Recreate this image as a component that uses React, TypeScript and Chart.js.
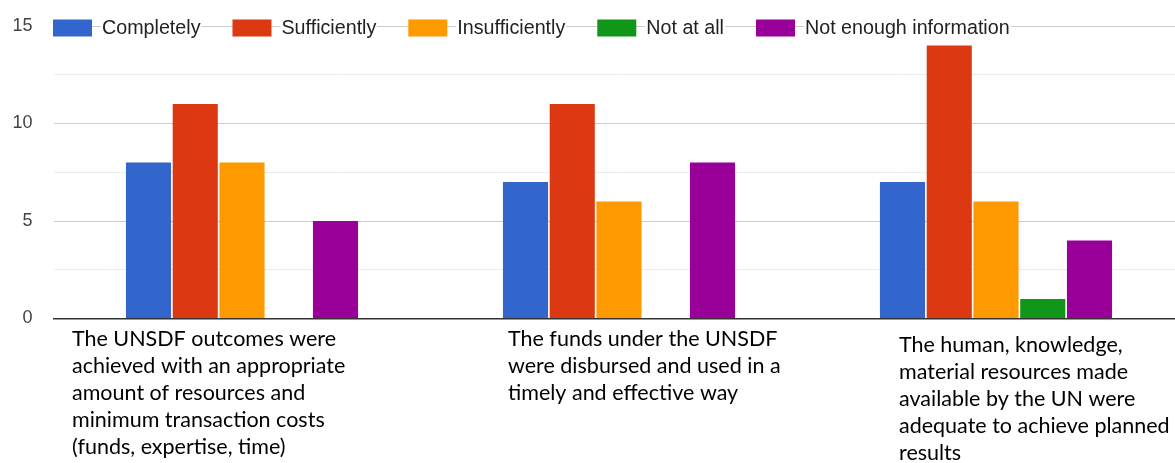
import React, { useEffect, useRef } from "react";
import { Chart, registerables } from "chart.js";

Chart.register(...registerables);

// ---- data ----
const categoryLines: string[][] = [
  ["The UNSDF outcomes were", "achieved with an appropriate", "amount of resources and", "minimum transaction costs", "(funds, expertise, time)"],
  ["The funds under the UNSDF", "were disbursed and used in a", "timely and effective way"],
  ["The human, knowledge,", "material resources made", "available by the UN were", "adequate to achieve planned", "results"],
];
const seriesNames = ["Completely", "Sufficiently", "Insufficiently", "Not at all", "Not enough information"];
const completely = [8, 7, 7];
const sufficiently = [11, 11, 14];
const insufficiently = [8, 6, 6];
const notAtAll = [0, 0, 1];
const notEnoughInfo = [5, 8, 4];
const yTickLabels = [0, 5, 10, 15];

const seriesValues = [completely, sufficiently, insufficiently, notAtAll, notEnoughInfo];
const seriesColors = ["#3366cc", "#dc3912", "#ff9900", "#109618", "#990099"];

// ---- layout / style (not data) ----
const CANVAS_W = 1200;
const CANVAS_H = 463;
const labelDx = [-170, -111, -97];
const labelDy = [27, 27, 33];
const labelLineH = 27;

const legendPlugin = {
  id: "customLegend",
  afterDraw(chart: any) {
    const ctx = chart.ctx as CanvasRenderingContext2D;
    const y = chart.scales.y.getPixelForValue(15) + 2;
    ctx.save();
    ctx.font = '19.7px "Liberation Sans", Arial, sans-serif';
    ctx.textBaseline = "middle";
    ctx.textAlign = "left";
    let x = 53;
    chart.data.datasets.forEach((ds: any) => {
      ctx.fillStyle = ds.backgroundColor;
      ctx.fillRect(x, y - 8.5, 39, 17);
      x += 39 + 10;
      const w = ctx.measureText(ds.label).width;
      ctx.fillStyle = "#ffffff";
      ctx.fillRect(x - 1, y - 11, w + 2, 22);
      ctx.fillStyle = "#222222";
      ctx.fillText(ds.label, x, y + 1);
      x += w + 32;
    });
    ctx.restore();
  },
};

const categoryLabelPlugin = {
  id: "categoryLabels",
  afterDraw(chart: any) {
    const ctx = chart.ctx as CanvasRenderingContext2D;
    const xs = chart.scales.x;
    const base = chart.chartArea.bottom;
    ctx.save();
    ctx.font = "21.5px Lato, sans-serif";
    ctx.fillStyle = "#000000";
    ctx.textAlign = "left";
    ctx.textBaseline = "alphabetic";
    categoryLines.forEach((lines, i) => {
      const x0 = xs.getPixelForValue(i) + labelDx[i];
      lines.forEach((t, j) => {
        ctx.fillText(t, x0, base + labelDy[i] + j * labelLineH);
      });
    });
    ctx.restore();
  },
};

export default function App() {
  const ref = useRef<HTMLCanvasElement>(null);

  useEffect(() => {
    if (!ref.current) return;
    const chart = new Chart(ref.current, {
      type: "bar",
      data: {
        labels: categoryLines.map((l) => l.join(" ")),
        datasets: seriesNames.map((name, i) => ({
          label: name,
          data: seriesValues[i],
          backgroundColor: seriesColors[i],
          borderWidth: 0,
          categoryPercentage: 0.62,
          barPercentage: 0.965,
        })),
      },
      options: {
        responsive: false,
        animation: false,
        devicePixelRatio: 1,
        layout: { padding: { top: 26, right: 15.5, left: 0, bottom: 0 } },
        plugins: {
          legend: { display: false },
          tooltip: { enabled: false },
          title: { display: false },
        },
        scales: {
          x: {
            type: "category",
            grid: { display: false, drawTicks: false },
            ticks: { display: false },
            border: { display: true, color: "#333333", width: 1.5 },
            afterFit: (s: any) => {
              s.height = CANVAS_H - 318.5;
              s.paddingLeft = 0;
              s.paddingRight = 0;
            },
          },
          y: {
            min: 0,
            max: 15,
            ticks: {
              stepSize: 2.5,
              padding: 21,
              color: "#444444",
              font: { family: '"Liberation Sans", Arial, sans-serif', size: 18 },
              callback: (v: any) => (yTickLabels.includes(Number(v)) ? String(v) : ""),
            },
            grid: {
              drawTicks: false,
              color: (c: any) => {
                const v = c.tick ? c.tick.value : 0;
                if (v === 0) return "#333333";
                return v % 5 === 0 ? "#cccccc" : "#ebebeb";
              },
              lineWidth: 1,
            },
            border: { display: false },
            afterFit: (s: any) => {
              s.width = 53.5;
              s.paddingTop = 0;
              s.paddingBottom = 0;
            },
          },
        },
      },
      plugins: [legendPlugin, categoryLabelPlugin],
    });
    const fonts = (document as any).fonts;
    if (fonts && fonts.load) {
      Promise.all([fonts.load("21.5px Lato"), fonts.load('19.7px "Liberation Sans"')])
        .then(() => chart.draw())
        .catch(() => {});
    }
    return () => chart.destroy();
  }, []);

  return (
    <div
      style={{
        position: "absolute",
        left: 0,
        top: 0,
        width: 1175,
        height: 463,
        overflow: "hidden",
        background: "#ffffff",
      }}
    >
      <canvas
        ref={ref}
        width={CANVAS_W}
        height={CANVAS_H}
        style={{ display: "block", width: CANVAS_W, height: CANVAS_H }}
      />
    </div>
  );
}
